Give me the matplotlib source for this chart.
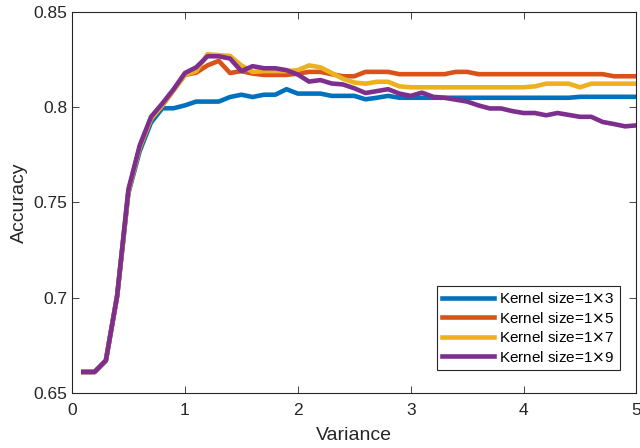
import numpy as np
import matplotlib
matplotlib.use("Agg")
import matplotlib.pyplot as plt

plt.rcParams['font.family'] = ['Liberation Sans', 'DejaVu Sans']

variance = np.round(np.arange(1, 51) * 0.1, 1)

acc_k3 = [0.661, 0.661, 0.667, 0.701, 0.755, 0.777, 0.792, 0.7995, 0.7995, 0.801,
          0.803, 0.803, 0.803, 0.8054, 0.8066, 0.8054, 0.8066, 0.8066, 0.8095, 0.8072,
          0.8072, 0.8072, 0.806, 0.806, 0.806, 0.8042, 0.805, 0.806, 0.805, 0.805,
          0.805, 0.805, 0.805, 0.805, 0.805, 0.805, 0.805, 0.805, 0.805, 0.805,
          0.805, 0.805, 0.805, 0.805, 0.8055, 0.8055, 0.8055, 0.8055, 0.8055, 0.8055]
acc_k5 = [0.661, 0.661, 0.667, 0.701, 0.756, 0.779, 0.794, 0.801, 0.809, 0.817,
          0.8182, 0.822, 0.8244, 0.818, 0.819, 0.8177, 0.817, 0.817, 0.817, 0.8177,
          0.8186, 0.8186, 0.8174, 0.8163, 0.8163, 0.8186, 0.8186, 0.8186, 0.8174, 0.8174,
          0.8174, 0.8174, 0.8174, 0.8186, 0.8186, 0.8174, 0.8174, 0.8174, 0.8174, 0.8174,
          0.8174, 0.8174, 0.8174, 0.8174, 0.8174, 0.8174, 0.8174, 0.8163, 0.8163, 0.8163]
acc_k7 = [0.661, 0.661, 0.667, 0.701, 0.756, 0.779, 0.794, 0.801, 0.809, 0.817,
          0.819, 0.8279, 0.8274, 0.827, 0.822, 0.8186, 0.819, 0.819, 0.819, 0.8195,
          0.822, 0.821, 0.818, 0.815, 0.813, 0.8124, 0.8134, 0.8134, 0.811, 0.8105,
          0.8105, 0.8105, 0.8105, 0.8105, 0.8105, 0.8105, 0.8105, 0.8105, 0.8105, 0.8105,
          0.811, 0.8124, 0.8124, 0.8124, 0.8105, 0.8124, 0.8124, 0.8124, 0.8124, 0.8124]
acc_k9 = [0.661, 0.661, 0.667, 0.701, 0.757, 0.780, 0.795, 0.802, 0.8095, 0.818,
          0.821, 0.8268, 0.8268, 0.8256, 0.819, 0.8216, 0.8205, 0.8205, 0.8195, 0.8172,
          0.8135, 0.8143, 0.8125, 0.812, 0.810, 0.8075, 0.8085, 0.8095, 0.8072, 0.806,
          0.8077, 0.8055, 0.805, 0.804, 0.803, 0.801, 0.7994, 0.7994, 0.798, 0.797,
          0.797, 0.7958, 0.797, 0.796, 0.795, 0.795, 0.7923, 0.7912, 0.790, 0.7905]

colors = ['#0072BD', '#D95319', '#EDB120', '#7E2F8E']
labels = [r'Kernel size=1$\times$3', r'Kernel size=1$\times$5',
          r'Kernel size=1$\times$7', r'Kernel size=1$\times$9']

fig = plt.figure(figsize=(6.4, 4.48), dpi=100)
ax = fig.add_axes([0.1125, 0.123, 0.882, 0.85])

for acc, c, lab in zip([acc_k3, acc_k5, acc_k7, acc_k9], colors, labels):
    ax.plot(variance, acc, color=c, linewidth=3.3, label=lab)

ax.set_xlim(0, 5)
ax.set_ylim(0.65, 0.85)
ax.set_xticks([0, 1, 2, 3, 4, 5])
ax.set_yticks([0.65, 0.7, 0.75, 0.8, 0.85])
ax.set_yticklabels(['0.65', '0.7', '0.75', '0.8', '0.85'])
ax.tick_params(direction='in', top=True, right=True, labelsize=12.5, colors='#262626',
               length=5, width=0.6)
ax.tick_params(axis='x', pad=7)
for s in ax.spines.values():
    s.set_color('#262626')
    s.set_linewidth(0.8)

ax.set_xlabel('Variance', fontsize=14, color='#262626', labelpad=7)
ax.set_ylabel('Accuracy', fontsize=14, color='#262626', labelpad=4)

leg = ax.legend(loc='lower right', bbox_to_anchor=(0.97, 0.06), fontsize=11,
                handlelength=3.4, handletextpad=0.3, labelspacing=0.3,
                borderpad=0.35, borderaxespad=0, fancybox=False, framealpha=1)
leg.get_frame().set_edgecolor('#262626')
leg.get_frame().set_linewidth(0.8)

fig.savefig('out.png', dpi=100)
